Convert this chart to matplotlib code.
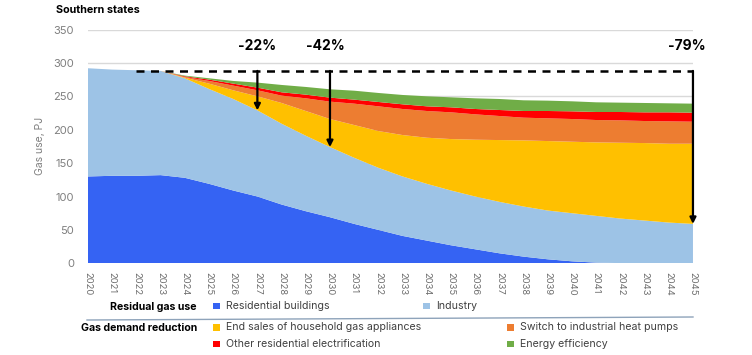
import numpy as np
import matplotlib.pyplot as plt
from matplotlib.patches import Rectangle
from matplotlib.lines import Line2D

plt.rcParams['font.family'] = ['Inter', 'DejaVu Sans']

years = list(range(2020, 2046))

# residual gas use, PJ
residential = [130, 131, 131, 132, 128, 119, 109, 100, 88, 78, 69, 59, 50,
               41, 34, 27, 21, 15, 10, 6, 3, 1, 0.3, 0, 0, 0]
industry = [162, 159, 158, 156, 149, 142, 137, 129, 121, 113, 105, 99, 93,
            89, 85, 82, 79, 77, 75, 73, 72, 70, 66.7, 64, 61, 59]

# gas demand reduction, PJ
end_sales = [0, 0, 0, 0, 1, 8, 13, 21, 31, 37, 42, 49, 55,
             62, 69, 77, 85, 92.5, 99, 104, 107, 110, 113.5, 116, 118, 120]
heat_pumps = [0, 0, 0, 0, 1, 4, 7, 9, 11, 19, 26, 32, 37,
              39, 40, 40, 38, 36, 34, 34, 34, 33.5, 33.5, 33, 33.5, 33]
other_res = [0, 0, 0, 0, 1, 2, 3, 4, 5, 5.5, 6, 6, 6.5,
             7, 7, 7.5, 8, 9, 10, 11, 11.5, 12, 12.5, 13, 13.5, 13.5]
energy_eff = [0, 0, 0, 0, 1, 2, 4, 7.5, 11, 11.5, 12.5, 13.4, 13.5,
              14, 15, 15, 16, 16.5, 16, 15.5, 15, 14.5, 14, 14, 13.5, 13.5]

baseline = 288
baseline_start = 2022
arrow_years = [2027, 2030, 2045]
arrow_labels = ['-22%', '-42%', '-79%']
label_years = [2027, 2029.8, 2044.75]

series_names = ['Residential buildings', 'Industry',
                'End sales of household gas appliances', 'Switch to industrial heat pumps',
                'Other residential electrification', 'Energy efficiency']
colors = ['#3563F3', '#9DC3E6', '#FFC000', '#ED7D31', '#FF0000', '#70AD47']

fig = plt.figure(figsize=(7.52, 3.55), dpi=100)
ax = fig.add_axes([0.117, 0.2583, 0.8045, 0.6586])

ax.stackplot(years, residential, industry, end_sales, heat_pumps, other_res, energy_eff,
             colors=colors, linewidth=0)

ax.set_xlim(2020, 2045)
ax.set_ylim(0, 350)
ax.set_yticks(range(0, 351, 50))
ax.set_xticks(years)
ax.set_xticklabels([str(y) for y in years], rotation=270, fontsize=6.8, color='#6F6F6F')
ax.tick_params(axis='y', labelsize=8, labelcolor='#7F7F7F', length=0, pad=10)
ax.tick_params(axis='x', length=0, pad=6)
ax.yaxis.grid(True, color='#D9D9D9', lw=1)
ax.set_axisbelow(True)
for s in ax.spines.values():
    s.set_visible(False)
ax.set_ylabel('Gas use, PJ', fontsize=7.5, color='#7F7F7F', labelpad=6)

# baseline and reduction arrows
ax.plot([baseline_start, 2045], [baseline, baseline], color='black', lw=1.8,
        dashes=(3.2, 2.6), clip_on=False, zorder=5)
residual = np.array(residential) + np.array(industry)
for yr, lab, lx in zip(arrow_years, arrow_labels, label_years):
    end = residual[years.index(yr)]
    ax.annotate('', xy=(yr, end), xytext=(yr, baseline),
                arrowprops=dict(arrowstyle='-|>', color='black', lw=1.6,
                                mutation_scale=9, shrinkA=0, shrinkB=0),
                annotation_clip=False, zorder=6)
    ax.text(lx, 325, lab, ha='center', va='center', fontsize=10, fontweight='bold')

fig.text(0.075, 0.972, 'Southern states', fontsize=7.8, fontweight='bold', va='center')

# legend laid out like a small table
def key(x, y, color, label):
    fig.add_artist(Rectangle((x / 752, 1 - (y + 3.3) / 355), 6.5 / 752, 6.5 / 355,
                             transform=fig.transFigure, color=color, lw=0))
    fig.text((x + 13) / 752, 1 - y / 355, label, fontsize=7.6, color='#404040', va='center')

fig.text(197 / 752, 1 - 307 / 355, 'Residual gas use', fontsize=7.6, fontweight='bold',
         ha='right', va='center')
fig.text(197 / 752, 1 - 328 / 355, 'Gas demand reduction', fontsize=7.6, fontweight='bold',
         ha='right', va='center')
fig.add_artist(Line2D([87 / 752, 693 / 752], [1 - 320 / 355, 1 - 317 / 355],
                      transform=fig.transFigure, color='#8EA3BA', lw=1))
key(213, 306, colors[0], series_names[0])
key(423, 306, colors[1], series_names[1])
key(213, 327.5, colors[2], series_names[2])
key(507.5, 327.5, colors[3], series_names[3])
key(213, 344, colors[4], series_names[4])
key(507.5, 344, colors[5], series_names[5])

fig.savefig('out.png', dpi=100)
